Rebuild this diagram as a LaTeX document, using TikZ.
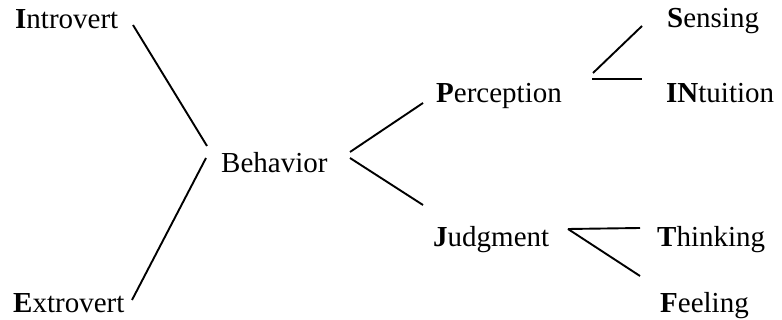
\documentclass[tikz,border=0pt]{standalone}
\usepackage{fontspec}
\setmainfont{Liberation Serif}
\usetikzlibrary{positioning}

\begin{document}
\begin{tikzpicture}[
		x=1pt, y=-1pt,
		term/.style={anchor=base west, inner sep=0pt, font=\fontsize{29}{34}\selectfont},
		link/.style={line width=1.9pt}
		]
		\useasboundingbox (0,0) rectangle (782,320);
		% Nodes
		\node[term] (intro) at (15,29) {\textbf{I}ntrovert};
		\node[term] (extro) at (13,313) {\textbf{E}xtrovert};
		\node[term] (behav) at (221,173) {Behavior};
		\node[term] (percep) at (436,103) {\textbf{P}erception};
		\node[term] (judg) at (433,247) {\textbf{J}udgment};
		\node[term] (sens) at (667,28) {\textbf{S}ensing};
		\node[term] (intu) at (666,103) {\textbf{IN}tuition};
		\node[term] (think) at (657,247) {\textbf{T}hinking};
		\node[term] (feel) at (660,313) {\textbf{F}eeling};
		
		% Line ends
		\coordinate (intro-e) at (133,25);
		\coordinate (extro-e) at (132,300);
		\coordinate (behav-w1) at (207,146);
		\coordinate (behav-w2) at (206,158);
		\coordinate (behav-e1) at (350,152);
		\coordinate (behav-e2) at (350,158);
		\coordinate (percep-w) at (423,103);
		\coordinate (judg-w) at (423,205);
		\coordinate (percep-e1) at (593,73);
		\coordinate (percep-e2) at (592,79);
		\coordinate (sens-w) at (642,26);
		\coordinate (intu-w) at (642,79);
		\coordinate (judg-e) at (568,229);
		\coordinate (think-w) at (640,228);
		\coordinate (feel-w) at (640,276);
		
		% Lines
		\draw[link] (intro-e) -- (behav-w1);
		\draw[link] (extro-e) -- (behav-w2);
		\draw[link] (behav-e1) -- (percep-w);
		\draw[link] (behav-e2) -- (judg-w);
		\draw[link] (percep-e1) -- (sens-w);
		\draw[link] (percep-e2) -- (intu-w);
		\draw[link] (judg-e) -- (think-w);
		\draw[link] (judg-e) -- (feel-w);
	\end{tikzpicture}
\end{document}
